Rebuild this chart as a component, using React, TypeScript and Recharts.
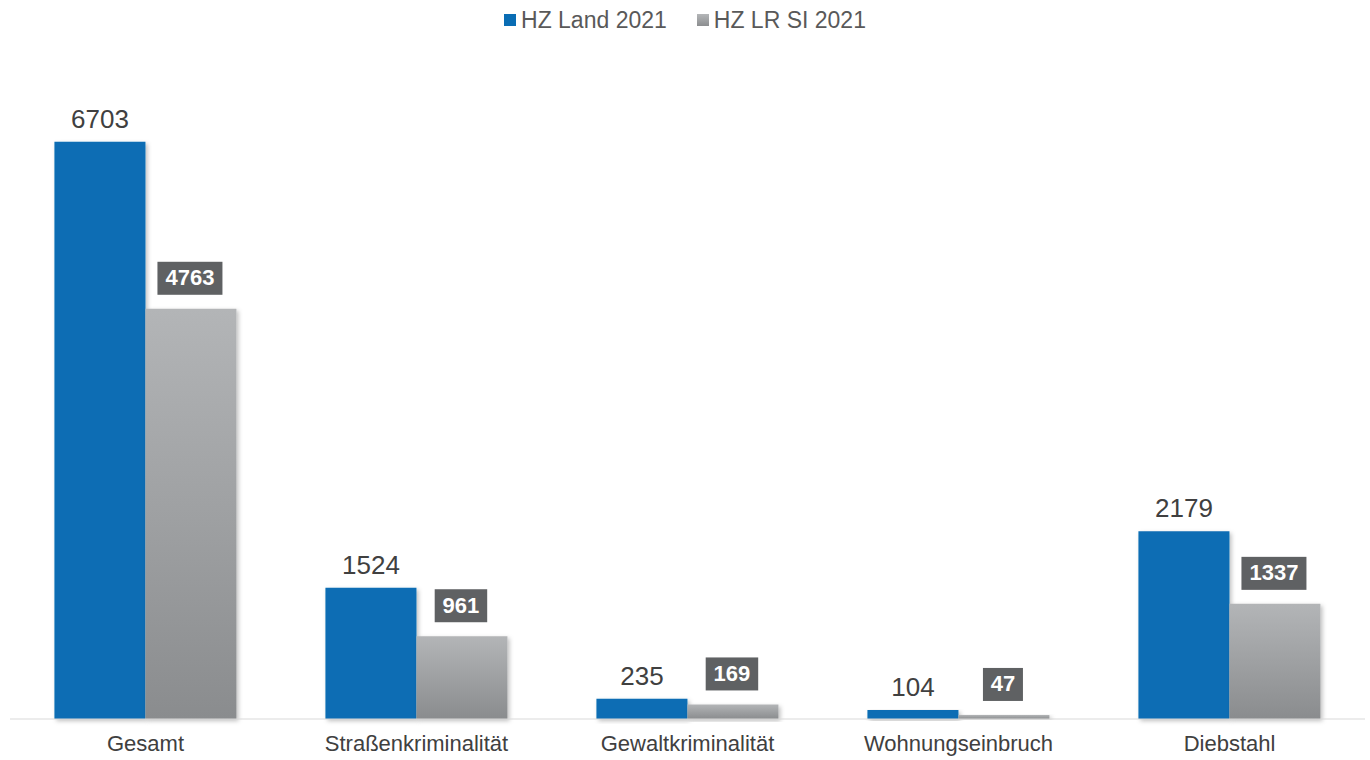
import React from 'react';
import { Bar, BarChart, LabelList, XAxis, YAxis } from 'recharts';

// Kategorien und Werte (Häufigkeitszahlen 2021)
const categories = [
  'Gesamt',
  'Straßenkriminalität',
  'Gewaltkriminalität',
  'Wohnungseinbruch',
  'Diebstahl',
];
const hzLand = [6703, 1524, 235, 104, 2179];
const hzLrSi = [4763, 961, 169, 47, 1337];

const data = categories.map((name, i) => ({
  name,
  land: hzLand[i],
  lrsi: hzLrSi[i],
}));

const BLUE = '#0a6db4';

// dunkles Kästchen mit weißer Zahl über den grauen Balken
const BoxLabel = (props: any) => {
  const { x, y, width, value } = props;
  const text = String(value);
  const w = text.length * 12.5 + 15;
  const h = 33;
  const cx = x + width / 2 - 1;
  const top = y - 14 - h;
  return (
    <g>
      <rect x={cx - w / 2} y={top} width={w} height={h} fill="#5f6163" />
      <text
        x={cx}
        y={top + h / 2 + 1}
        textAnchor="middle"
        dominantBaseline="middle"
        fill="#ffffff"
        fontSize={22}
        fontWeight="bold"
      >
        {text}
      </text>
    </g>
  );
};

const LegendRow = () => (
  <div
    style={{
      position: 'absolute',
      top: 6,
      left: 0,
      width: 1370,
      display: 'flex',
      justifyContent: 'center',
      gap: 30,
      fontSize: 23,
      color: '#595959',
      lineHeight: '28px',
      fontFamily: '"Liberation Sans", Arial, sans-serif',
    }}
  >
    <div style={{ display: 'flex', alignItems: 'center', gap: 5 }}>
      <span style={{ width: 12, height: 12, background: BLUE, display: 'inline-block' }} />
      HZ Land 2021
    </div>
    <div style={{ display: 'flex', alignItems: 'center', gap: 5 }}>
      <span
        style={{
          width: 12,
          height: 12,
          background: 'linear-gradient(#b4b6b8, #8c8e90)',
          display: 'inline-block',
        }}
      />
      HZ LR SI 2021
    </div>
  </div>
);

export default function App() {
  return (
    <div
      style={{
        position: 'absolute',
        left: 0,
        top: 0,
        width: 1370,
        height: 760,
        background: '#ffffff',
        fontFamily: '"Liberation Sans", Arial, sans-serif',
      }}
    >
      <BarChart
        width={1370}
        height={760}
        data={data}
        margin={{ top: 30, right: 5, left: 10, bottom: 0 }}
        barCategoryGap="16.4%"
        barGap={0}
      >
        <defs>
          <linearGradient id="grayGrad" x1="0" y1="0" x2="0" y2="1">
            <stop offset="0%" stopColor="#b3b5b7" />
            <stop offset="100%" stopColor="#8a8c8e" />
          </linearGradient>
          <filter id="shadow" x="-10%" y="-10%" width="130%" height="130%">
            <feDropShadow dx="2" dy="2" stdDeviation="2" floodColor="#000" floodOpacity="0.25" />
          </filter>
        </defs>
        <XAxis
          dataKey="name"
          height={41}
          tickLine={false}
          axisLine={{ stroke: '#d9d9d9' }}
          tick={{ fill: '#404040', fontSize: 22 }}
          tickMargin={10}
          interval={0}
        />
        <YAxis hide domain={[0, 8000]} />
        <Bar
          dataKey="land"
          fill={BLUE}
          isAnimationActive={false}
          style={{ filter: 'url(#shadow)' }}
        >
          <LabelList
            dataKey="land"
            position="top"
            offset={14}
            fill="#404040"
            fontSize={26}
          />
        </Bar>
        <Bar
          dataKey="lrsi"
          fill="url(#grayGrad)"
          isAnimationActive={false}
          style={{ filter: 'url(#shadow)' }}
        >
          <LabelList dataKey="lrsi" content={<BoxLabel />} />
        </Bar>
      </BarChart>
      <LegendRow />
    </div>
  );
}
